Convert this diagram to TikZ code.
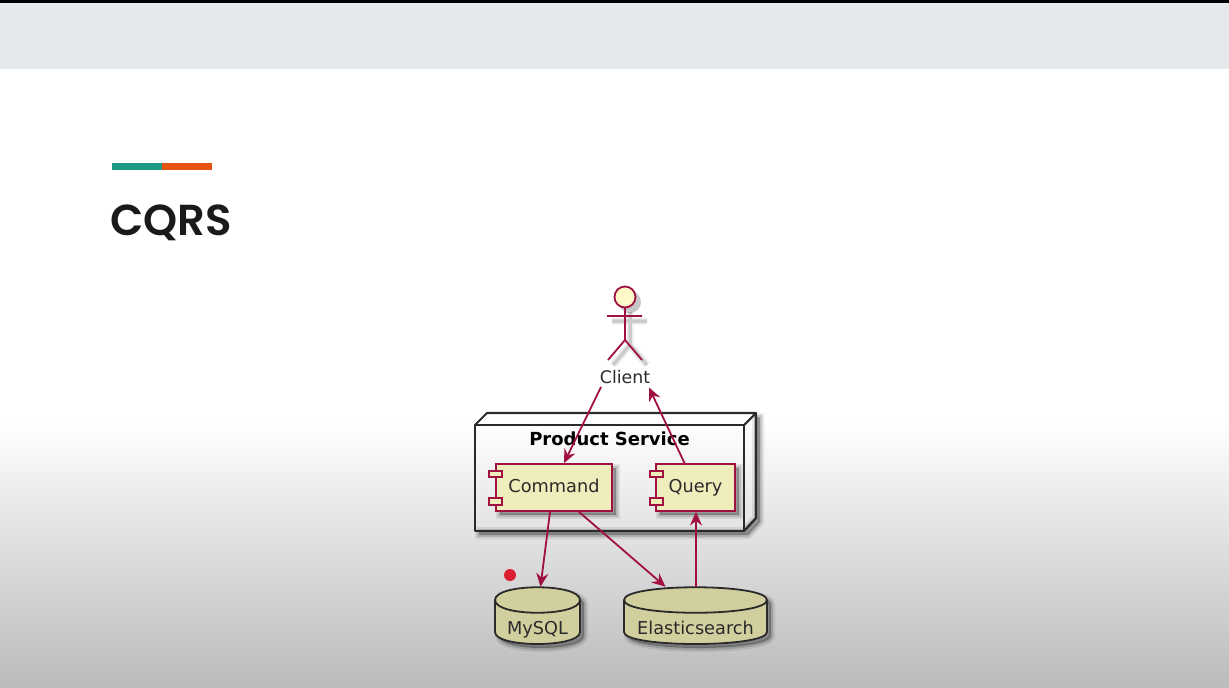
\documentclass[tikz,border=0pt]{standalone}
\usepackage{fontspec}
\setmainfont{DejaVu Sans}
\newfontfamily\titlefont{Poppins SemiBold}
\usetikzlibrary{arrows.meta,calc}
\definecolor{umlred}{HTML}{A01040}
\definecolor{compfill}{HTML}{F0EDBD}
\definecolor{dbfill}{HTML}{D2CF9E}
\definecolor{headfill}{HTML}{FEFBC8}
\definecolor{inkdark}{HTML}{2A2A2A}
\definecolor{teal}{HTML}{1E9A84}
\definecolor{orng}{HTML}{E8540F}
\definecolor{banner}{HTML}{E6E9EC}
\definecolor{bottomgray}{HTML}{BBBBBB}
\definecolor{titleink}{HTML}{1A1A1A}
\tikzset{
  softshadow/.style={preaction={draw=black,draw opacity=.08,line width=8*0.75pt},fill=black,fill opacity=.28,draw=black,draw opacity=.14,line width=4*0.75pt},
  softline/.style={preaction={draw=black,draw opacity=.07,line width=7*0.75pt},draw=black,draw opacity=.14,line width=3.5*0.75pt},
  umlline/.style={draw=umlred,line width=1.8*0.75pt},
  umlarrow/.style={umlline,-{Stealth[length=13.5*0.75pt,width=12*0.75pt,inset=4.5*0.75pt]}},
  labeltext/.style={font=\fontsize{13.3}{15}\selectfont,text=inkdark,text height=10pt,text depth=3pt,inner sep=0pt},
  component/.style={rectangle,draw=umlred,fill=compfill,line width=1.8*0.75pt,inner sep=0pt,
     minimum height=47*0.75pt,labeltext},
  port/.style={draw=umlred,fill=compfill,line width=1.7*0.75pt},
  dbbody/.style={draw=inkdark,fill=dbfill,line width=1.8*0.75pt},
  dbnode/.style={rectangle,inner sep=0pt,minimum height=57*0.75pt},
  nodeline/.style={draw=inkdark,line width=2.1*0.75pt,line join=round}
}
\newcommand{\cyl}[2]{%
  \path[softshadow] (#1+4,604) .. controls (#1+4,587) and (#2+4,587) .. (#2+4,604) -- (#2+4,636) .. controls (#2+4,652) and (#1+4,652) .. (#1+4,636) -- cycle;
  \path[dbbody] (#1,600) .. controls (#1,583) and (#2,583) .. (#2,600) -- (#2,632) .. controls (#2,648) and (#1,648) .. (#1,632) -- cycle;
  \draw[dbbody,fill=none] (#1,600) .. controls (#1,617) and (#2,617) .. (#2,600);
}
\begin{document}
\begin{tikzpicture}[x=0.75pt,y=-0.75pt]
\useasboundingbox (0,0) rectangle (1229,687);
% background
\fill[white] (0,0) rectangle (1229,687);
\shade[top color=white,bottom color=bottomgray] (0,420) rectangle (1229,687);
\fill[banner] (0,0) rectangle (1229,69);
\fill[black] (0,0) rectangle (1229,3);
% title
\fill[teal] (112,163) rectangle (162,170);
\fill[orng] (162,163) rectangle (212,170);
\node[anchor=base west,inner sep=0pt,text=titleink,font=\titlefont\fontsize{32.5}{38}\selectfont] (title) at (110,235.5) {CQRS};
% actor shadow
\fill[black,opacity=.22] (630,302) circle (11);
\draw[softline] (630,312) -- (630,345) (612,321) -- (647,321) (613,365) -- (630,345) -- (647,365);
% actor
\draw[umlline] (625,307) -- (625,340) (607,316) -- (642,316) (608,360) -- (625,340) -- (642,360);
\draw[umlline,fill=headfill] (625,297) circle (10.5);
\node[inner sep=0pt,text=inkdark,font=\fontsize{13}{15}\selectfont] (client) at (625,377) {Client};
% deployment node (its shadow lies only outside the outline)
\path[softshadow] (479,531) -- (744,531) -- (756,518) -- (756,417) -- (760,417) -- (760,522) -- (748,535) -- (479,535) -- cycle;
\draw[nodeline] (475,425) rectangle (744,531);
\draw[nodeline] (475,425) -- (487,413) -- (756,413) -- (744,425) (756,413) -- (756,518) -- (744,531);
\node[inner sep=0pt,text=black,font=\bfseries\fontsize{13.5}{15}\selectfont] (service) at (609.5,439) {Product Service};
% component shadows
\path[softshadow] (500,468) rectangle (616,515);
\path[softshadow] (660,468) rectangle (739,515);
% components
\node[component,minimum width=116*0.75pt] (cmd) at (554,487.5) {Command};
\node[component,minimum width=79*0.75pt] (qry) at (695.5,487.5) {Query};
\path[port] (489,471) rectangle (502,477);
\path[port] (489,498) rectangle (502,505);
\path[port] (650,471) rectangle (663,477);
\path[port] (650,498) rectangle (663,505);
% databases
\cyl{495}{580}
\cyl{624}{767}
\node[dbnode,minimum width=85*0.75pt,label={[yshift=-14.5*0.75pt,labeltext]center:MySQL}] (mysql) at (537.5,615.5) {};
\node[dbnode,minimum width=143*0.75pt,label={[yshift=-14.5*0.75pt,labeltext]center:Elasticsearch}] (es) at (695.5,615.5) {};
% red dot
\fill[fill={rgb,255:red,220;green,30;blue,48}] (510,575) circle (6);
% connectors
\draw[umlarrow] ($(client.south)+(-24,3)$) -- ($(cmd.north)+(10,0)$);
\draw[umlarrow] ($(qry.north)+(-11,0)$) -- ($(client.south)+(24,3.5)$);
\draw[umlarrow] ($(cmd.south)+(-4,0)$) -- ($(mysql.north)+(3,0)$);
\draw[umlarrow] ($(cmd.south)+(25,0)$) -- ($(es.north)+(-30,0)$);
\draw[umlarrow] ($(es.north)+(0.5,0)$) -- ($(qry.south)+(0.5,0)$);
\end{tikzpicture}
\end{document}
